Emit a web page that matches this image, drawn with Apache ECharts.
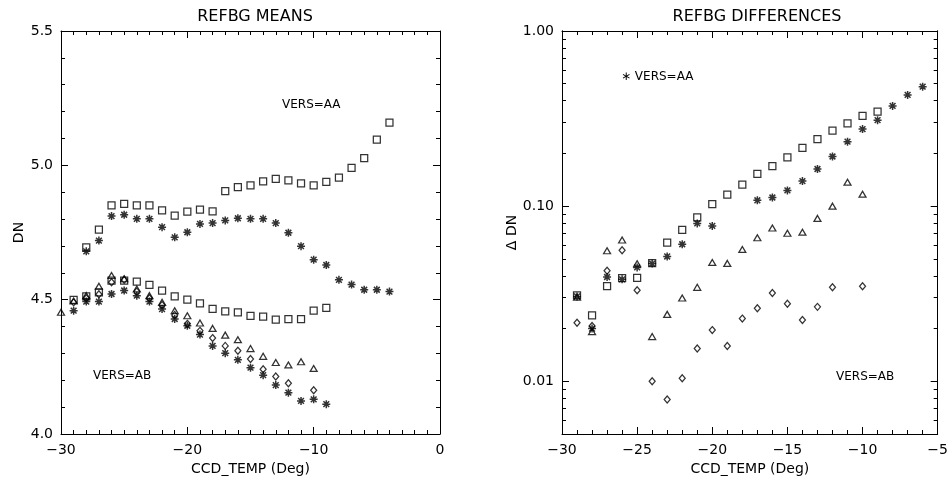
<!DOCTYPE html>
<html>
<head>
<meta charset="utf-8">
<script src="https://cdn.jsdelivr.net/npm/echarts@6/dist/echarts.min.js"></script>
<style>
  html, body { margin: 0; padding: 0; background: #fff; }
  #chart { width: 951px; height: 485px; }
</style>
</head>
<body>
<div id="chart"></div>
<script>
// ---- REFBG means (DN) against CCD temperature ----
const meanTemps = [-30, -29, -28, -27, -26, -25, -24, -23, -22, -21, -20, -19, -18, -17,
                   -16, -15, -14, -13, -12, -11, -10, -9, -8, -7, -6, -5, -4];
const meanAASquare = [null, null, 4.695, 4.761, 4.851, 4.857, 4.851, 4.851, 4.832, 4.813, 4.828, 4.835, 4.829, 4.904,
                      4.919, 4.925, 4.940, 4.950, 4.944, 4.933, 4.925, 4.938, 4.954, 4.991, 5.027, 5.096, 5.159];
const meanAAStar   = [null, null, 4.680, 4.720, 4.811, 4.816, 4.801, 4.801, 4.770, 4.732, 4.751, 4.782, 4.785, 4.795,
                      4.803, 4.801, 4.801, 4.785, 4.749, 4.699, 4.649, 4.629, 4.574, 4.556, 4.537, 4.537, 4.530];
const meanABSquare = [null, 4.499, 4.512, 4.527, 4.571, 4.571, 4.567, 4.555, 4.534, 4.512, 4.500, 4.486, 4.466, 4.456,
                      4.453, 4.440, 4.437, 4.426, 4.428, 4.428, 4.459, 4.469, null, null, null, null, null];
const meanABTriangle = [4.453, 4.495, 4.515, 4.550, 4.590, 4.578, 4.540, 4.515, 4.490, 4.459, 4.440, 4.413, 4.393, 4.368,
                        4.351, 4.318, 4.289, 4.266, 4.257, 4.269, 4.244, null, null, null, null, null, null];
const meanABDiamond = [null, 4.490, 4.505, 4.520, 4.565, 4.574, 4.530, 4.505, 4.480, 4.443, 4.410, 4.384, 4.357, 4.328,
                       4.310, 4.279, 4.241, 4.214, 4.189, null, 4.163, null, null, null, null, null, null];
const meanABStar = [null, 4.459, 4.493, 4.493, 4.521, 4.534, 4.515, 4.493, 4.465, 4.428, 4.403, 4.370, 4.328, 4.301,
                    4.276, 4.247, 4.219, 4.182, 4.154, 4.123, 4.129, 4.111, null, null, null, null, null];

// ---- REFBG differences (delta DN, log scale) ----
const diffTemps = [-29, -28, -27, -26, -25, -24, -23, -22, -21, -20, -19, -18, -17, -16,
                   -15, -14, -13, -12, -11, -10, -9, -8, -7, -6];
const diffSquare = [0.0309, 0.0238, 0.0349, 0.0388, 0.0389, 0.0473, 0.0619, 0.0731, 0.0862, 0.1026, 0.1164, 0.1325,
                    0.153, 0.169, 0.190, 0.215, 0.2416, 0.270, 0.2966, 0.328, 0.347, null, null, null];
const diffStar = [0.0305, 0.0200, 0.0394, 0.0382, 0.0447, 0.0470, 0.0516, 0.0606, 0.0797, 0.0771, null, null,
                  0.108, 0.112, 0.123, 0.139, 0.163, 0.192, 0.2335, 0.2754, 0.3097, 0.3736, 0.4315, 0.481];
const diffTriangle = [0.0302, 0.0192, 0.0556, 0.0641, 0.0469, 0.0180, 0.0241, 0.0299, 0.0344, 0.0477, 0.0471, 0.0566,
                      0.066, 0.0750, 0.070, 0.071, 0.0851, 0.100, 0.137, 0.117, null, null, null, null];
const diffDiamond = [0.0216, 0.0207, 0.0428, 0.0560, 0.0331, 0.0100, 0.00787, 0.0104, 0.0154, 0.0196, 0.0159, 0.0228,
                     0.0261, 0.0319, 0.0277, 0.0224, 0.0266, 0.0344, null, 0.0349, null, null, null, null];

// tick values for the logarithmic axis
const logMajorTicks = [0.01, 0.1, 1];
const logMinorTicks = [0.006, 0.007, 0.008, 0.009,
                       0.02, 0.03, 0.04, 0.05, 0.06, 0.07, 0.08, 0.09,
                       0.2, 0.3, 0.4, 0.5, 0.6, 0.7, 0.8, 0.9];

const FONT = 'DejaVu Sans';
const INK = '#000';
const STAR = 'path://M0,-1L0,1M-1,0L1,0M-0.72,-0.72L0.72,0.72M-0.72,0.72L0.72,-0.72';

function pairs(xs, ys) {
  return xs.map((x, i) => [x, ys[i]]).filter(p => p[1] !== null);
}
function minus(v) {
  return String(v).replace('-', '\u2212');
}

function marks(symbol, size, xs, ys, xi, yi) {
  const star = symbol === STAR;
  return {
    type: 'scatter', symbol, symbolSize: size, data: pairs(xs, ys),
    xAxisIndex: xi, yAxisIndex: yi, silent: true,
    itemStyle: { color: 'transparent', borderColor: INK, borderWidth: star ? 1.5 : 1.25 }
  };
}

const line = { color: INK, width: 1 };
const labelStyle = { color: INK, fontFamily: FONT, fontSize: 14 };
const nameStyle = { color: INK, fontFamily: FONT, fontSize: 14 };

function xAxis(grid, pos, min, max, interval, split, withLabels) {
  return {
    type: 'value', gridIndex: grid, position: pos, min, max, interval,
    axisLine: { show: true, onZero: false, lineStyle: line },
    axisTick: { show: true, inside: true, length: 7, lineStyle: line },
    minorTick: { show: true, splitNumber: split, length: 4, lineStyle: line },
    splitLine: { show: false },
    axisLabel: withLabels ? Object.assign({ margin: 9, formatter: minus }, labelStyle) : { show: false },
    name: withLabels ? 'CCD_TEMP (Deg)' : '',
    nameLocation: 'middle', nameGap: 26, nameTextStyle: nameStyle
  };
}

function meanY(pos, withLabels) {
  return {
    type: 'value', gridIndex: 0, position: pos, min: 4.0, max: 5.5, interval: 0.5,
    axisLine: { show: true, onZero: false, lineStyle: line },
    axisTick: { show: true, inside: true, length: 7, lineStyle: line },
    minorTick: { show: true, splitNumber: 5, length: 4, lineStyle: line },
    splitLine: { show: false },
    axisLabel: withLabels ? Object.assign({ margin: 8, formatter: v => v.toFixed(1) }, labelStyle) : { show: false },
    name: withLabels ? 'DN' : '',
    nameLocation: 'middle', nameGap: 33, nameTextStyle: nameStyle
  };
}

function diffY(pos, ticks, len, withLabels) {
  return {
    type: 'log', logBase: 10, gridIndex: 1, position: pos, min: 0.005, max: 1,
    axisLine: { show: true, onZero: false, lineStyle: line },
    axisTick: { show: true, inside: true, length: len, customValues: ticks, lineStyle: line },
    minorTick: { show: false },
    splitLine: { show: false },
    axisLabel: withLabels
      ? Object.assign({ margin: 8, customValues: logMajorTicks, formatter: v => Number(v).toFixed(2) }, labelStyle)
      : { show: false },
    name: withLabels ? '\u0394 DN' : '',
    nameLocation: 'middle', nameGap: 31, nameTextStyle: nameStyle
  };
}

const chart = echarts.init(document.getElementById('chart'), null, { renderer: 'canvas' });

chart.setOption({
  animation: false,
  backgroundColor: '#fff',
  textStyle: { fontFamily: FONT, color: INK },
  title: [
    { text: 'REFBG MEANS', left: 250, top: 4, textAlign: 'center',
      textStyle: { fontFamily: FONT, fontSize: 16, fontWeight: 'normal', color: INK } },
    { text: 'REFBG DIFFERENCES', left: 752, top: 4, textAlign: 'center',
      textStyle: { fontFamily: FONT, fontSize: 16, fontWeight: 'normal', color: INK } }
  ],
  grid: [
    { left: 61, right: 511, top: 31, bottom: 51 },
    { left: 562, right: 8, top: 31, bottom: 51 }
  ],
  xAxis: [
    xAxis(0, 'bottom', -30, 0, 10, 10, true),
    xAxis(0, 'top', -30, 0, 10, 10, false),
    xAxis(1, 'bottom', -30, -5, 5, 5, true),
    xAxis(1, 'top', -30, -5, 5, 5, false)
  ],
  yAxis: [
    meanY('left', true),
    meanY('right', false),
    diffY('left', logMajorTicks, 7, true),
    diffY('left', logMinorTicks, 4, false),
    diffY('right', logMajorTicks, 7, false),
    diffY('right', logMinorTicks, 4, false)
  ],
  graphic: [
    { type: 'text', left: 282, top: 99, silent: true,
      style: { text: 'VERS=AA', fill: INK, font: '12px "DejaVu Sans"' } },
    { type: 'text', left: 93, top: 370, silent: true,
      style: { text: 'VERS=AB', fill: INK, font: '12px "DejaVu Sans"' } },
    { type: 'text', left: 621, top: 71, silent: true,
      style: { text: '\u2217 VERS=AA', fill: INK, font: '12px "DejaVu Sans"' } },
    { type: 'text', left: 836, top: 371, silent: true,
      style: { text: 'VERS=AB', fill: INK, font: '12px "DejaVu Sans"' } }
  ],
  series: [
    marks('rect', 7, meanTemps, meanAASquare, 0, 0),
    marks(STAR, 8, meanTemps, meanAAStar, 0, 0),
    marks('rect', 7, meanTemps, meanABSquare, 0, 0),
    marks('triangle', [7, 6], meanTemps, meanABTriangle, 0, 0),
    marks('diamond', [6, 7], meanTemps, meanABDiamond, 0, 0),
    marks(STAR, 8, meanTemps, meanABStar, 0, 0),
    marks('rect', 7, diffTemps, diffSquare, 2, 2),
    marks(STAR, 8, diffTemps, diffStar, 2, 2),
    marks('triangle', [7, 6], diffTemps, diffTriangle, 2, 2),
    marks('diamond', [6, 7], diffTemps, diffDiamond, 2, 2)
  ]
});
</script>
</body>
</html>
